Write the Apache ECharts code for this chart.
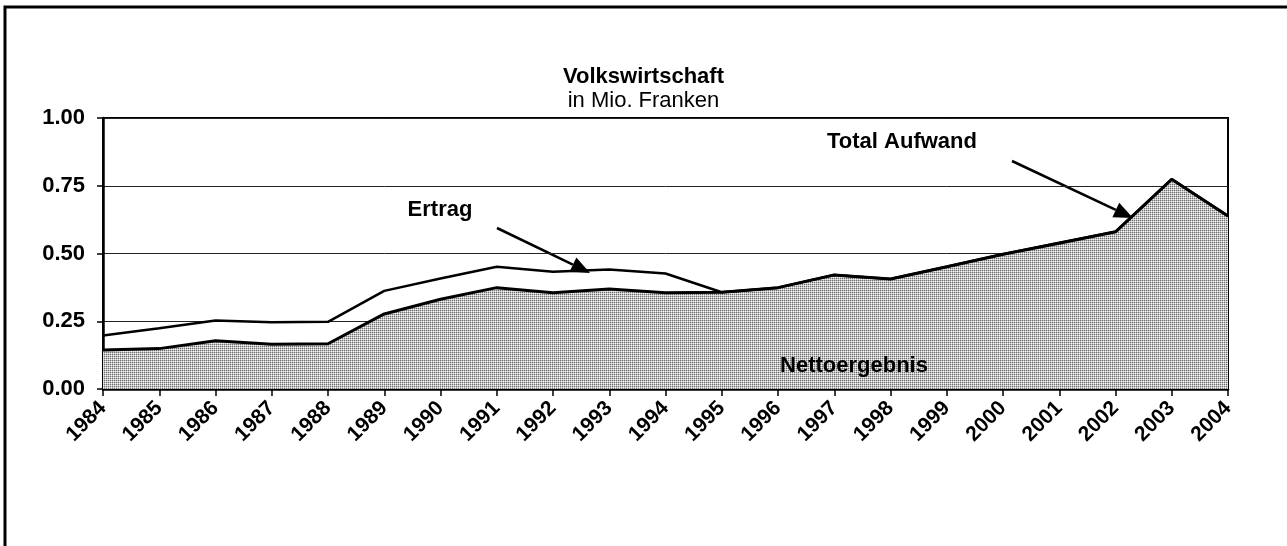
<!DOCTYPE html>
<html>
	<head>
		<meta charset="utf-8">
		<title>Volkswirtschaft</title>
		<script src="https://cdn.jsdelivr.net/npm/echarts@6/dist/echarts.min.js"></script>
		<style>
			html, body { margin: 0; padding: 0; background: #fff; }
		</style>
	</head>
	<body>
		<div id="main" style="width: 1287px;height:546px;"></div>
		<script type="text/javascript">
			// Daten
			var jahre = ['1984', '1985', '1986', '1987', '1988', '1989', '1990', '1991', '1992', '1993', '1994',
				'1995', '1996', '1997', '1998', '1999', '2000', '2001', '2002', '2003', '2004'];
			var totalAufwand = [0.144, 0.149, 0.178, 0.165, 0.167, 0.277, 0.331, 0.374, 0.355, 0.369, 0.355,
				0.357, 0.374, 0.421, 0.406, 0.451, 0.497, 0.538, 0.580, 0.774, 0.638];
			var ertrag = [0.197, 0.224, 0.253, 0.246, 0.248, 0.362, 0.408, 0.451, 0.433, 0.441, 0.426,
				0.357, 0.374, 0.421, 0.406, 0.451, 0.497, 0.540, 0.580, 0.774, 0.638];
			var yTicks = ['0.00', '0.25', '0.50', '0.75', '1.00'];

			var schrift = '"Liberation Sans", Arial, sans-serif';

			// Punktraster fuer die Flaeche
			var muster = document.createElement('canvas');
			muster.width = 2;
			muster.height = 2;
			var ctx = muster.getContext('2d');
			ctx.fillStyle = '#f2f2f2';
			ctx.fillRect(0, 0, 2, 2);
			ctx.fillStyle = '#6e6e6e';
			ctx.fillRect(0, 0, 1, 1);
			ctx.fillStyle = '#c4c4c4';
			ctx.fillRect(1, 0, 1, 1);
			ctx.fillRect(0, 1, 1, 1);

			var myChart = echarts.init(document.getElementById('main'));

			function pfeil(x1, y1, x2, y2) {
				var dx = x2 - x1, dy = y2 - y1;
				var len = Math.sqrt(dx * dx + dy * dy);
				var ux = dx / len, uy = dy / len;
				var bx = x2 - ux * 19, by = y2 - uy * 19;
				var px = -uy * 8, py = ux * 8;
				return [{
					type: 'line',
					shape: { x1: x1, y1: y1, x2: bx, y2: by },
					style: { stroke: '#000', lineWidth: 2.5 }
				}, {
					type: 'polygon',
					shape: { points: [[x2, y2], [bx + px, by + py], [bx - px, by - py]] },
					style: { fill: '#000' }
				}];
			}

			var grafik = [{
				type: 'rect',
				shape: { x: 5, y: 7, width: 1400, height: 700 },
				style: { fill: null, stroke: '#000', lineWidth: 3 }
			}, {
				type: 'text', x: 440, y: 210,
				style: { text: 'Ertrag', font: 'bold 22px ' + schrift, fill: '#000', textAlign: 'center', textVerticalAlign: 'middle' }
			}, {
				type: 'text', x: 902, y: 142,
				style: { text: 'Total Aufwand', font: 'bold 22px ' + schrift, fill: '#000', textAlign: 'center', textVerticalAlign: 'middle' }
			}, {
				type: 'text', x: 854, y: 366, z: 100,
				style: { text: 'Nettoergebnis', font: 'bold 22px ' + schrift, fill: '#000', textAlign: 'center', textVerticalAlign: 'middle' }
			}].concat(pfeil(497, 228, 590, 273)).concat(pfeil(1012, 161, 1133, 218));

			option = {
				animation: false,
				backgroundColor: '#fff',
				title: [{
					text: 'Volkswirtschaft',
					left: 'center',
					top: 61,
					textStyle: { fontFamily: schrift, fontSize: 22, fontWeight: 'bold', color: '#000' }
				}, {
					text: 'in Mio. Franken',
					left: 'center',
					top: 85,
					textStyle: { fontFamily: schrift, fontSize: 22, fontWeight: 'normal', color: '#000' }
				}],
				grid: {
					left: 103,
					right: 59,
					top: 118,
					bottom: 157,
					show: true,
					borderColor: '#000',
					borderWidth: 2,
					backgroundColor: 'transparent'
				},
				xAxis: {
					type: 'category',
					boundaryGap: false,
					data: jahre,
					axisLine: { lineStyle: { color: '#000', width: 2.5 } },
					axisTick: { show: true, length: 7, lineStyle: { color: '#000', width: 1.5 } },
					axisLabel: {
						interval: 0,
						rotate: 45,
						margin: 16,
						fontFamily: schrift,
						fontSize: 21,
						fontWeight: 'bold',
						color: '#000'
					},
					splitLine: { show: false }
				},
				yAxis: {
					type: 'value',
					min: 0,
					max: 1,
					interval: 0.25,
					axisLine: { show: true, lineStyle: { color: '#000', width: 2.5 } },
					axisTick: { show: true, length: 6, lineStyle: { color: '#000', width: 1.5 } },
					axisLabel: {
						margin: 18,
						fontFamily: schrift,
						fontSize: 22,
						fontWeight: 'bold',
						color: '#000',
						formatter: function(v) {
							return yTicks[Math.round(v / 0.25)];
						}
					},
					splitLine: { show: true, lineStyle: { color: '#222', width: 1 } }
				},
				graphic: grafik,
				series: [{
						name: 'Total Aufwand',
						type: 'line',
						data: totalAufwand,
						symbol: 'none',
						lineStyle: { color: '#000', width: 3 },
						areaStyle: { color: { image: muster, repeat: 'repeat' }, opacity: 1 },
						z: 2
					},
					{
						name: 'Ertrag',
						type: 'line',
						data: ertrag,
						symbol: 'none',
						lineStyle: { color: '#000', width: 2.5 },
						z: 3
					}
				]
			};
			myChart.setOption(option);
		</script>
	</body>
</html>
